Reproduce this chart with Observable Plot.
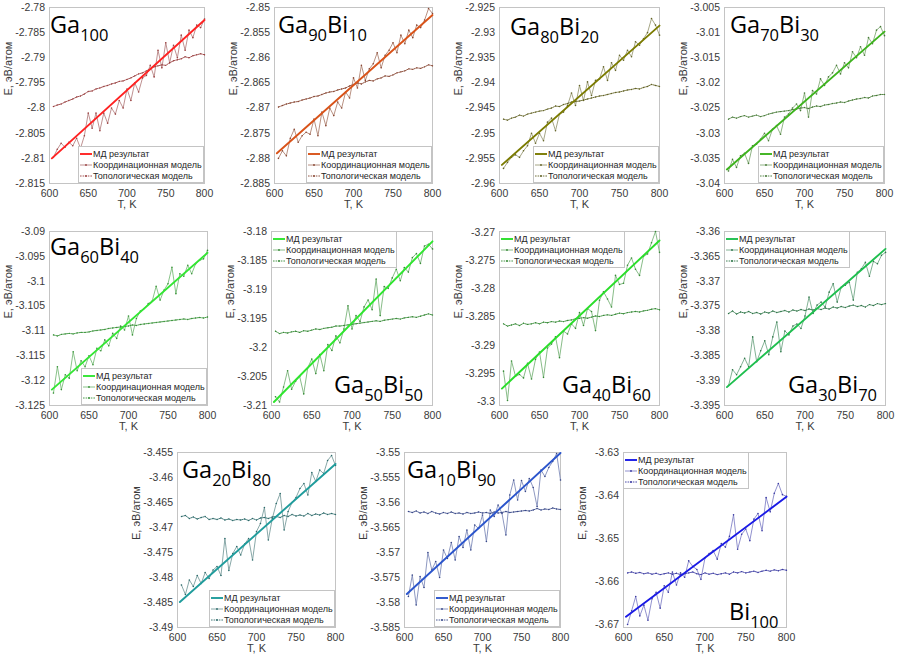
<!DOCTYPE html>
<html>
<head>
<meta charset="utf-8">
<script src="https://cdn.jsdelivr.net/npm/d3@7"></script>
<script src="https://cdn.jsdelivr.net/npm/@observablehq/plot@0.6"></script>
<style>
  body { margin: 0; background: #fff; }
  #fig { position: relative; width: 899px; height: 657px; overflow: hidden; font-family: "Liberation Sans", Arial, sans-serif; }
</style>
</head>
<body>
<div id="fig"></div>
<script>
// ---- shared axes ----
const temps = [605,610,615,620,625,630,635,640,645,650,655,660,665,670,675,680,685,690,695,700,
               705,710,715,720,725,730,735,740,745,750,755,760,765,770,775,780,785,790,795,800];
const mdTemps = [603, 800];
const xTicks = [600, 650, 700, 750, 800];
const legendLabels = ["МД результат", "Координационная модель", "Топологическая модель"];
const xLabel = "T, K";
const yLabel = "E, эВ/атом";

// ---- Ga100 ----
const ga100Md = [-2.8100, -2.7825];
const ga100Coord = [-2.8098,-2.8082,-2.8070,-2.8078,-2.8068,-2.8075,-2.8060,-2.8080,-2.8055,-2.8010,
  -2.8040,-2.8010,-2.8045,-2.8010,-2.8030,-2.8000,-2.8012,-2.7985,-2.8000,-2.7962,
  -2.7985,-2.7950,-2.7968,-2.7940,-2.7935,-2.7915,-2.7938,-2.7885,-2.7920,-2.7870,
  -2.7910,-2.7875,-2.7900,-2.7855,-2.7885,-2.7845,-2.7860,-2.7835,-2.7840,-2.7823];
const ga100Topo = [-2.7997,-2.7994,-2.7992,-2.7988,-2.7985,-2.7982,-2.7978,-2.7976,-2.7972,-2.7967,
  -2.7966,-2.7962,-2.7960,-2.7957,-2.7955,-2.7952,-2.7950,-2.7947,-2.7946,-2.7943,
  -2.7940,-2.7936,-2.7932,-2.7930,-2.7926,-2.7922,-2.7918,-2.7916,-2.7914,-2.7915,
  -2.7910,-2.7906,-2.7904,-2.7902,-2.7898,-2.7900,-2.7896,-2.7894,-2.7892,-2.7894];
const ga100Ticks = [-2.815,-2.81,-2.805,-2.8,-2.795,-2.79,-2.785,-2.78];

// ---- Ga90Bi10 ----
const ga90Md = [-2.8790, -2.8515];
const ga90Coord = [-2.8800,-2.8785,-2.8795,-2.8760,-2.8742,-2.8768,-2.8755,-2.8748,-2.8752,-2.8722,
  -2.8755,-2.8708,-2.8735,-2.8700,-2.8715,-2.8688,-2.8700,-2.8668,-2.8680,-2.8640,
  -2.8660,-2.8615,-2.8645,-2.8622,-2.8612,-2.8590,-2.8620,-2.8595,-2.8585,-2.8570,
  -2.8590,-2.8555,-2.8572,-2.8545,-2.8560,-2.8535,-2.8540,-2.8525,-2.8502,-2.8512];
const ga90Topo = [-2.8698,-2.8695,-2.8692,-2.8690,-2.8688,-2.8687,-2.8684,-2.8682,-2.8680,-2.8677,
  -2.8676,-2.8673,-2.8670,-2.8668,-2.8667,-2.8664,-2.8662,-2.8660,-2.8656,-2.8653,
  -2.8650,-2.8652,-2.8648,-2.8645,-2.8646,-2.8642,-2.8640,-2.8636,-2.8637,-2.8634,
  -2.8630,-2.8628,-2.8626,-2.8622,-2.8623,-2.8620,-2.8621,-2.8618,-2.8614,-2.8616];
const ga90Ticks = [-2.885,-2.88,-2.875,-2.87,-2.865,-2.86,-2.855,-2.85];

// ---- Ga80Bi20 ----
const ga80Md = [-2.9563, -2.9286];
const ga80Coord = [-2.9570,-2.9558,-2.9548,-2.9543,-2.9548,-2.9535,-2.9525,-2.9500,-2.9520,-2.9500,
  -2.9515,-2.9478,-2.9470,-2.9495,-2.9462,-2.9458,-2.9445,-2.9420,-2.9445,-2.9405,
  -2.9435,-2.9398,-2.9425,-2.9395,-2.9392,-2.9368,-2.9395,-2.9360,-2.9375,-2.9345,
  -2.9355,-2.9335,-2.9348,-2.9318,-2.9325,-2.9312,-2.9300,-2.9272,-2.9285,-2.9305];
const ga80Topo = [-2.9472,-2.9474,-2.9470,-2.9468,-2.9464,-2.9466,-2.9462,-2.9460,-2.9458,-2.9456,
  -2.9455,-2.9452,-2.9450,-2.9446,-2.9447,-2.9443,-2.9441,-2.9438,-2.9437,-2.9436,
  -2.9434,-2.9432,-2.9430,-2.9428,-2.9426,-2.9425,-2.9423,-2.9421,-2.9419,-2.9418,
  -2.9416,-2.9414,-2.9413,-2.9411,-2.9412,-2.9409,-2.9407,-2.9403,-2.9405,-2.9407];
const ga80Ticks = [-2.96,-2.955,-2.95,-2.945,-2.94,-2.935,-2.93,-2.925];

// ---- Ga70Bi30 ----
const ga70Md = [-3.0372, -3.0098];
const ga70Coord = [-3.0375,-3.0352,-3.0368,-3.0345,-3.0340,-3.0360,-3.0325,-3.0322,-3.0312,-3.0300,
  -3.0315,-3.0292,-3.0285,-3.0302,-3.0268,-3.0262,-3.0250,-3.0242,-3.0255,-3.0220,
  -3.0268,-3.0215,-3.0222,-3.0192,-3.0205,-3.0188,-3.0180,-3.0165,-3.0182,-3.0160,
  -3.0170,-3.0138,-3.0150,-3.0128,-3.0145,-3.0110,-3.0122,-3.0095,-3.0088,-3.0106];
const ga70Topo = [-3.0272,-3.0268,-3.0270,-3.0267,-3.0265,-3.0268,-3.0266,-3.0264,-3.0267,-3.0265,
  -3.0262,-3.0260,-3.0258,-3.0257,-3.0256,-3.0255,-3.0253,-3.0252,-3.0250,-3.0249,
  -3.0251,-3.0248,-3.0246,-3.0247,-3.0244,-3.0243,-3.0241,-3.0240,-3.0238,-3.0239,
  -3.0236,-3.0234,-3.0232,-3.0231,-3.0229,-3.0230,-3.0226,-3.0225,-3.0223,-3.0223];
const ga70Ticks = [-3.04,-3.035,-3.03,-3.025,-3.02,-3.015,-3.01,-3.005];

// ---- Ga60Bi40 ----
const ga60Md = [-3.1218, -3.0943];
const ga60Coord = [-3.1225,-3.1172,-3.1218,-3.1188,-3.1195,-3.1142,-3.1180,-3.1160,-3.1172,-3.1150,
  -3.1168,-3.1135,-3.1140,-3.1118,-3.1130,-3.1105,-3.1115,-3.1090,-3.1098,-3.1070,
  -3.1108,-3.1075,-3.1060,-3.1055,-3.1045,-3.1040,-3.1010,-3.1038,-3.1018,-3.1005,
  -3.0972,-3.1025,-3.0985,-3.0990,-3.0968,-3.0985,-3.0965,-3.0958,-3.0955,-3.0938];
const ga60Topo = [-3.1108,-3.1110,-3.1107,-3.1106,-3.1105,-3.1106,-3.1104,-3.1103,-3.1103,-3.1102,
  -3.1100,-3.1099,-3.1098,-3.1097,-3.1095,-3.1094,-3.1093,-3.1092,-3.1091,-3.1090,
  -3.1088,-3.1089,-3.1087,-3.1086,-3.1085,-3.1084,-3.1083,-3.1082,-3.1081,-3.1080,
  -3.1079,-3.1078,-3.1077,-3.1076,-3.1077,-3.1075,-3.1074,-3.1073,-3.1074,-3.1072];
const ga60Ticks = [-3.125,-3.12,-3.115,-3.11,-3.105,-3.1,-3.095,-3.09];

// ---- Ga50Bi50 ----
const ga50Md = [-3.2094, -3.1817];
const ga50Coord = [-3.2085,-3.2094,-3.2068,-3.2040,-3.2072,-3.2058,-3.2050,-3.2080,-3.2035,-3.2020,
  -3.2045,-3.2012,-3.2040,-3.1995,-3.2005,-3.1980,-3.1992,-3.1968,-3.1928,-3.1968,
  -3.1945,-3.1955,-3.1930,-3.1918,-3.1935,-3.1882,-3.1945,-3.1895,-3.1898,-3.1880,
  -3.1865,-3.1885,-3.1862,-3.1870,-3.1845,-3.1838,-3.1855,-3.1825,-3.1822,-3.1830];
const ga50Topo = [-3.1972,-3.1976,-3.1974,-3.1975,-3.1973,-3.1972,-3.1974,-3.1971,-3.1972,-3.1970,
  -3.1968,-3.1969,-3.1967,-3.1966,-3.1965,-3.1963,-3.1963,-3.1962,-3.1961,-3.1960,
  -3.1959,-3.1958,-3.1957,-3.1956,-3.1955,-3.1954,-3.1955,-3.1953,-3.1952,-3.1951,
  -3.1950,-3.1951,-3.1949,-3.1948,-3.1947,-3.1948,-3.1946,-3.1944,-3.1942,-3.1944];
const ga50Ticks = [-3.21,-3.205,-3.2,-3.195,-3.19,-3.185,-3.18];

// ---- Ga40Bi60 ----
const ga40Md = [-3.2977, -3.2714];
const ga40Coord = [-3.2946,-3.2998,-3.2928,-3.2955,-3.2952,-3.2958,-3.2932,-3.2960,-3.2925,-3.2912,
  -3.2957,-3.2905,-3.2898,-3.2885,-3.2922,-3.2875,-3.2880,-3.2862,-3.2870,-3.2842,
  -3.2865,-3.2835,-3.2840,-3.2874,-3.2820,-3.2805,-3.2818,-3.2832,-3.2776,-3.2792,
  -3.2790,-3.2758,-3.2745,-3.2765,-3.2776,-3.2742,-3.2738,-3.2718,-3.2698,-3.2735];
const ga40Topo = [-3.2862,-3.2866,-3.2864,-3.2862,-3.2865,-3.2861,-3.2863,-3.2862,-3.2860,-3.2862,
  -3.2859,-3.2860,-3.2858,-3.2859,-3.2857,-3.2858,-3.2856,-3.2855,-3.2853,-3.2852,
  -3.2851,-3.2852,-3.2850,-3.2848,-3.2849,-3.2847,-3.2846,-3.2847,-3.2845,-3.2843,
  -3.2844,-3.2842,-3.2841,-3.2840,-3.2841,-3.2839,-3.2838,-3.2836,-3.2835,-3.2837];
const ga40Ticks = [-3.3,-3.295,-3.29,-3.285,-3.28,-3.275,-3.27];

// ---- Ga30Bi70 ----
const ga30Md = [-3.3913, -3.3635];
const ga30Coord = [-3.3910,-3.3878,-3.3888,-3.3872,-3.3855,-3.3872,-3.3812,-3.3862,-3.3840,-3.3820,
  -3.3848,-3.3812,-3.3782,-3.3842,-3.3800,-3.3808,-3.3790,-3.3786,-3.3795,-3.3770,
  -3.3732,-3.3765,-3.3748,-3.3742,-3.3752,-3.3722,-3.3705,-3.3742,-3.3712,-3.3708,
  -3.3702,-3.3738,-3.3682,-3.3675,-3.3662,-3.3690,-3.3660,-3.3665,-3.3648,-3.3642];
const ga30Topo = [-3.3765,-3.3760,-3.3766,-3.3762,-3.3764,-3.3761,-3.3765,-3.3763,-3.3766,-3.3762,
  -3.3764,-3.3760,-3.3763,-3.3761,-3.3759,-3.3762,-3.3758,-3.3760,-3.3757,-3.3759,
  -3.3756,-3.3758,-3.3755,-3.3757,-3.3754,-3.3756,-3.3752,-3.3754,-3.3751,-3.3753,
  -3.3750,-3.3748,-3.3751,-3.3749,-3.3752,-3.3747,-3.3749,-3.3745,-3.3747,-3.3745];
const ga30Ticks = [-3.395,-3.39,-3.385,-3.38,-3.375,-3.37,-3.365,-3.36];

// ---- Ga20Bi80 ----
const ga20Md = [-3.4849, -3.4573];
const ga20Coord = [-3.4815,-3.4834,-3.4805,-3.4818,-3.4796,-3.4812,-3.4790,-3.4802,-3.4785,-3.4778,
  -3.4796,-3.4722,-3.4786,-3.4752,-3.4738,-3.4755,-3.4733,-3.4722,-3.4765,-3.4708,
  -3.4692,-3.4660,-3.4725,-3.4682,-3.4652,-3.4632,-3.4705,-3.4668,-3.4650,-3.4640,
  -3.4622,-3.4612,-3.4635,-3.4590,-3.4608,-3.4585,-3.4592,-3.4566,-3.4556,-3.4576];
const ga20Topo = [-3.4678,-3.4676,-3.4682,-3.4679,-3.4683,-3.4680,-3.4678,-3.4684,-3.4682,-3.4684,
  -3.4681,-3.4685,-3.4683,-3.4686,-3.4684,-3.4685,-3.4683,-3.4686,-3.4682,-3.4685,
  -3.4681,-3.4680,-3.4682,-3.4679,-3.4678,-3.4680,-3.4676,-3.4678,-3.4674,-3.4677,
  -3.4675,-3.4677,-3.4672,-3.4676,-3.4673,-3.4675,-3.4671,-3.4674,-3.4672,-3.4674];
const ga20Ticks = [-3.49,-3.485,-3.48,-3.475,-3.47,-3.465,-3.46,-3.455];

// ---- Ga10Bi90 ----
const ga10Md = [-3.5783, -3.5501];
const ga10Coord = [-3.5788,-3.5745,-3.5805,-3.5748,-3.5770,-3.5700,-3.5735,-3.5718,-3.5750,-3.5695,
  -3.5712,-3.5680,-3.5715,-3.5668,-3.5690,-3.5655,-3.5695,-3.5645,-3.5652,-3.5625,
  -3.5678,-3.5615,-3.5628,-3.5605,-3.5622,-3.5665,-3.5585,-3.5555,-3.5595,-3.5556,
  -3.5578,-3.5552,-3.5570,-3.5608,-3.5535,-3.5548,-3.5530,-3.5518,-3.5502,-3.5555];
const ga10Topo = [-3.5618,-3.5620,-3.5617,-3.5621,-3.5619,-3.5622,-3.5618,-3.5621,-3.5623,-3.5620,
  -3.5622,-3.5619,-3.5622,-3.5621,-3.5623,-3.5620,-3.5622,-3.5621,-3.5619,-3.5621,
  -3.5620,-3.5622,-3.5619,-3.5621,-3.5620,-3.5618,-3.5620,-3.5619,-3.5618,-3.5617,
  -3.5616,-3.5617,-3.5615,-3.5612,-3.5615,-3.5613,-3.5614,-3.5611,-3.5613,-3.5614];
const ga10Ticks = [-3.585,-3.58,-3.575,-3.57,-3.565,-3.56,-3.555,-3.55];

// ---- Bi100 ----
const bi100Md = [-3.6682, -3.6403];
const bi100Coord = [-3.6700,-3.6668,-3.6635,-3.6680,-3.6655,-3.6690,-3.6640,-3.6625,-3.6662,-3.6610,
  -3.6625,-3.6578,-3.6608,-3.6580,-3.6590,-3.6552,-3.6565,-3.6572,-3.6595,-3.6545,
  -3.6535,-3.6528,-3.6548,-3.6512,-3.6520,-3.6495,-3.6445,-3.6525,-3.6490,-3.6478,
  -3.6505,-3.6455,-3.6442,-3.6482,-3.6405,-3.6438,-3.6395,-3.6372,-3.6398,-3.6402];
const bi100Topo = [-3.6580,-3.6578,-3.6581,-3.6579,-3.6582,-3.6580,-3.6583,-3.6581,-3.6584,-3.6582,
  -3.6580,-3.6583,-3.6581,-3.6584,-3.6582,-3.6580,-3.6578,-3.6582,-3.6584,-3.6580,
  -3.6583,-3.6581,-3.6584,-3.6582,-3.6580,-3.6583,-3.6578,-3.6580,-3.6577,-3.6580,
  -3.6578,-3.6576,-3.6579,-3.6576,-3.6574,-3.6576,-3.6573,-3.6575,-3.6572,-3.6574];
const bi100Ticks = [-3.67,-3.66,-3.65,-3.64,-3.63];

// ---- panel layout: plot rectangle, legend corner, title placement, colours ----
const panels = [
  {title:["Ga","100"], md:ga100Md, coord:ga100Coord, topo:ga100Topo, ticks:ga100Ticks,
   left:49, top:7, w:155, h:176, legend:"br", tx:50, ty:33, md_c:"#ff2222", dark:"#9a4040", light:"#b88484"},
  {title:["Ga","90","Bi","10"], md:ga90Md, coord:ga90Coord, topo:ga90Topo, ticks:ga90Ticks,
   left:274, top:7, w:158, h:176, legend:"br", tx:278, ty:33, md_c:"#d95319", dark:"#884632", light:"#b08474"},
  {title:["Ga","80","Bi","20"], md:ga80Md, coord:ga80Coord, topo:ga80Topo, ticks:ga80Ticks,
   left:499, top:7, w:160, h:176, legend:"br", tx:510, ty:35, md_c:"#7b7b00", dark:"#636326", light:"#9c9c78"},
  {title:["Ga","70","Bi","30"], md:ga70Md, coord:ga70Coord, topo:ga70Topo, ticks:ga70Ticks,
   left:724, top:7, w:160, h:176, legend:"br", tx:730, ty:33, md_c:"#3db31d", dark:"#467a36", light:"#84ac78"},
  {title:["Ga","60","Bi","40"], md:ga60Md, coord:ga60Coord, topo:ga60Topo, ticks:ga60Ticks,
   left:49, top:231, w:158, h:174, legend:"br", tx:50, ty:255, md_c:"#33e633", dark:"#389238", light:"#7cbc7c"},
  {title:["Ga","50","Bi","50"], md:ga50Md, coord:ga50Coord, topo:ga50Topo, ticks:ga50Ticks,
   left:271, top:231, w:161, h:174, legend:"tl", tx:334, ty:393, md_c:"#2ee62e", dark:"#368a36", light:"#7ab47a"},
  {title:["Ga","40","Bi","60"], md:ga40Md, coord:ga40Coord, topo:ga40Topo, ticks:ga40Ticks, domain:[-3.3007, -3.2698],
   left:499, top:231, w:160, h:174, legend:"tl", tx:562, ty:393, md_c:"#2ade2a", dark:"#368a36", light:"#7ab47a"},
  {title:["Ga","30","Bi","70"], md:ga30Md, coord:ga30Coord, topo:ga30Topo, ticks:ga30Ticks,
   left:724, top:231, w:161, h:174, legend:"tl", tx:788, ty:393, md_c:"#1fbf4f", dark:"#2c7446", light:"#74a888"},
  {title:["Ga","20","Bi","80"], md:ga20Md, coord:ga20Coord, topo:ga20Topo, ticks:ga20Ticks,
   left:177, top:452, w:158, h:175, legend:"br", tx:182, ty:478, md_c:"#1f9c9c", dark:"#2c6a6a", light:"#7a9e9e"},
  {title:["Ga","10","Bi","90"], md:ga10Md, coord:ga10Coord, topo:ga10Topo, ticks:ga10Ticks,
   left:404, top:452, w:156, h:175, legend:"br", tx:407, ty:478, md_c:"#2b55cc", dark:"#374788", light:"#808cba"},
  {title:["Bi","100"], md:bi100Md, coord:bi100Coord, topo:bi100Topo, ticks:bi100Ticks, domain:[-3.6707, -3.63],
   left:623, top:452, w:163, h:175, legend:"tl", tx:729, ty:620, md_c:"#1a1ae6", dark:"#3a3aa2", light:"#8484c8"}
];

const fig = document.getElementById("fig");
const ML = 58, MR = 6, MT = 6, MB = 34;
const axisColor = "#c4c4c4";
const textColor = "#3a3a3a";
const axisFont = "'Liberation Sans', Arial, sans-serif";

panels.forEach(p => {
  const coordRows = temps.map((T, i) => ({T, E: p.coord[i]}));
  const topoRows = temps.map((T, i) => ({T, E: p.topo[i]}));
  const mdRows = mdTemps.map((T, i) => ({T, E: p.md[i]}));
  const yDomain = p.domain || [p.ticks[0], p.ticks[p.ticks.length - 1]];

  const svg = Plot.plot({
    width: p.w + ML + MR,
    height: p.h + MT + MB,
    marginLeft: ML, marginRight: MR, marginTop: MT, marginBottom: MB,
    style: {fontFamily: axisFont, fontSize: "10.5px", color: textColor,
            background: "transparent", overflow: "visible"},
    x: {domain: [600, 800], ticks: xTicks, tickFormat: d => String(d), tickSize: 0, tickPadding: 6, label: null},
    y: {domain: yDomain, ticks: p.ticks, tickFormat: d => String(d), tickSize: 0, tickPadding: 4.5, label: null},
    marks: [
      Plot.frame({stroke: axisColor}),
      Plot.line(coordRows, {x: "T", y: "E", stroke: p.light, strokeWidth: 0.9}),
      Plot.dot(coordRows, {x: "T", y: "E", r: 0.8, fill: p.dark, stroke: null}),
      Plot.line(topoRows, {x: "T", y: "E", stroke: p.dark, strokeWidth: 0.9, strokeDasharray: "1.6,1"}),
      Plot.dot(topoRows, {x: "T", y: "E", r: 0.7, fill: p.dark, stroke: null}),
      Plot.line(mdRows, {x: "T", y: "E", stroke: p.md_c, strokeWidth: 1.9}),
      Plot.text([xLabel], {frameAnchor: "bottom", dy: 24, text: d => d, fill: textColor, fontSize: 11}),
      Plot.text([yLabel], {frameAnchor: "left", dx: -41, rotate: -90, text: d => d, fill: textColor, fontSize: 11})
    ]
  });
  svg.style.position = "absolute";
  svg.style.left = (p.left - ML) + "px";
  svg.style.top = (p.top - MT) + "px";
  fig.appendChild(svg);
});

// ---- titles and legends drawn on top of the panels ----
const over = d3.select(fig).append("svg")
  .attr("width", 899).attr("height", 657)
  .style("position", "absolute").style("left", "0px").style("top", "0px")
  .style("pointer-events", "none");

panels.forEach(p => {
  // compound name with subscripted fractions
  const t = over.append("text").attr("x", p.tx).attr("y", p.ty)
    .attr("font-family", "'Open Sans', sans-serif")
    .attr("font-size", 23.5).attr("fill", "#000");
  p.title.forEach((part, i) => {
    const sub = i % 2 === 1;
    t.append("tspan")
      .attr("font-size", sub ? 16.5 : 23.5)
      .attr("dy", i === 0 ? 0 : (sub ? 7.5 : -7.5))
      .text(part);
  });

  // legend box
  const lw = 126, lh = 37;
  const lx = p.legend === "br" ? p.left + p.w - lw : p.left;
  const ly = p.legend === "br" ? p.top + p.h - lh : p.top;
  const g = over.append("g");
  g.append("rect").attr("x", lx + 0.5).attr("y", ly + 0.5).attr("width", lw - 1).attr("height", lh - 1)
    .attr("fill", "#fff").attr("stroke", axisColor);
  legendLabels.forEach((lab, i) => {
    const cy = ly + 8 + i * 11;
    const line = g.append("line").attr("x1", lx + 2).attr("x2", lx + 14).attr("y1", cy).attr("y2", cy);
    if (i === 0) line.attr("stroke", p.md_c).attr("stroke-width", 1.9);
    else if (i === 1) line.attr("stroke", p.light).attr("stroke-width", 0.9);
    else line.attr("stroke", p.dark).attr("stroke-width", 0.9).attr("stroke-dasharray", "1.6,1");
    if (i > 0) g.append("circle").attr("cx", lx + 8).attr("cy", cy).attr("r", 0.9).attr("fill", p.dark);
    g.append("text").attr("x", lx + 15).attr("y", cy).attr("dy", "0.35em")
      .attr("font-family", axisFont)
      .attr("font-size", 9).attr("fill", "#262626").text(lab);
  });
});
</script>
</body>
</html>
